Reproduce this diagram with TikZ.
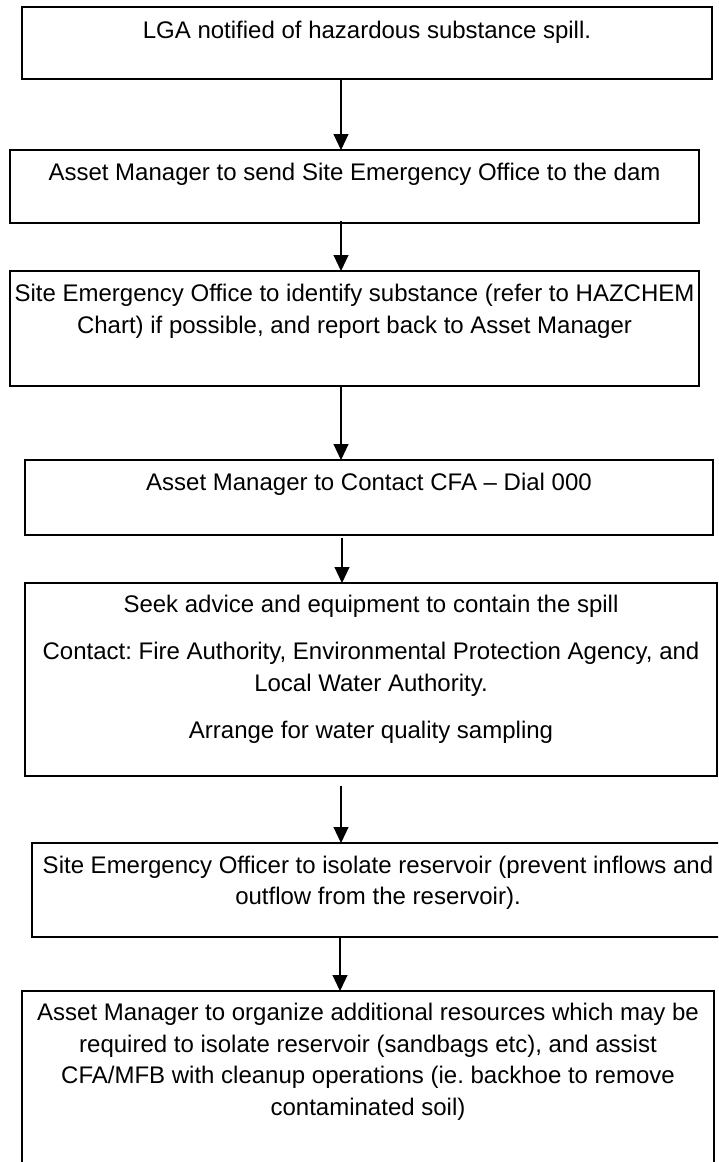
\documentclass[tikz,border=0pt]{standalone}
\usepackage{fontspec}
\setmainfont{Liberation Sans}
\usetikzlibrary{arrows.meta}
\frenchspacing
\tikzset{
  boxnode/.style={draw=black, line width=1.1pt, rectangle, inner sep=0pt, outer sep=0pt},
  txtnode/.style={anchor=north, align=center, inner sep=0pt, outer sep=0pt,
    font={\fontsize{24}{31.5}\selectfont\frenchspacing}},
  flowarrow/.style={draw=black, line width=1.1pt, -{Triangle[width=15pt,length=16pt]}}
}
\begin{document}
\begin{tikzpicture}[x=1pt,y=-1pt]
\useasboundingbox (0,0) rectangle (718,1162);
\fill[white] (0,0) rectangle (718,1162);
\clip (0,0) rectangle (718,1162);

% boxes
\node[boxnode, minimum width=690pt, minimum height=72pt] (b1) at (367,43) {};
\node[boxnode, minimum width=689pt, minimum height=73pt] (b2) at (354.5,186.5) {};
\node[boxnode, minimum width=689pt, minimum height=115pt] (b3) at (354.5,328.5) {};
\node[boxnode, minimum width=688pt, minimum height=75pt] (b4) at (369,497.5) {};
\node[boxnode, minimum width=692pt, minimum height=193pt] (b5) at (371,679.5) {};
\node[boxnode, minimum width=692pt, minimum height=94pt] (b6) at (378,890) {};
\node[boxnode, minimum width=692pt, minimum height=189pt] (b7) at (368,1085.5) {};

% texts
\node[txtnode] (t1) at (367,16) {\strut LGA notified of hazardous substance spill.};
\node[txtnode] (t2) at (354.5,158) {\strut Asset Manager to send Site Emergency Office to the dam};
\node[txtnode] (t3) at (354.5,279.6) {\strut Site Emergency Office to identify substance (refer to HAZCHEM\\Chart) if possible, and report back to Asset Manager};
\node[txtnode] (t4) at (369,468) {\strut Asset Manager to Contact CFA – Dial 000};
\node[txtnode] (t5) at (371,590.3) {\strut Seek advice and equipment to contain the spill\\[16pt]Contact: Fire Authority, Environmental Protection Agency, and\\Local Water Authority.\\[16pt]Arrange for water quality sampling};
\node[txtnode] (t6) at (378,851.3) {\strut Site Emergency Officer to isolate reservoir (prevent inflows and\\outflow from the reservoir).};
\node[txtnode] (t7) at (368,998.7) {\strut Asset Manager to organize additional resources which may be\\required to isolate reservoir (sandbags etc), and assist\\CFA/MFB with cleanup operations (ie. backhoe to remove\\contaminated soil)};

% arrow axis
\coordinate (ax) at (341,0);
\coordinate (ax4) at (342,0);
\coordinate (ax6) at (340,0);

\draw[flowarrow] (b1.south -| ax) -- (b2.north -| ax);
\draw[flowarrow] ([yshift=2pt]b2.south -| ax) -- (b3.north -| ax);
\draw[flowarrow] (b3.south -| ax) -- (b4.north -| ax);
\draw[flowarrow] ([yshift=-3pt]b4.south -| ax4) -- (b5.north -| ax4);
\draw[flowarrow] ([yshift=-10pt]b5.south -| ax) -- (b6.north -| ax);
\draw[flowarrow] (b6.south -| ax6) -- (b7.north -| ax6);
\end{tikzpicture}
\end{document}
